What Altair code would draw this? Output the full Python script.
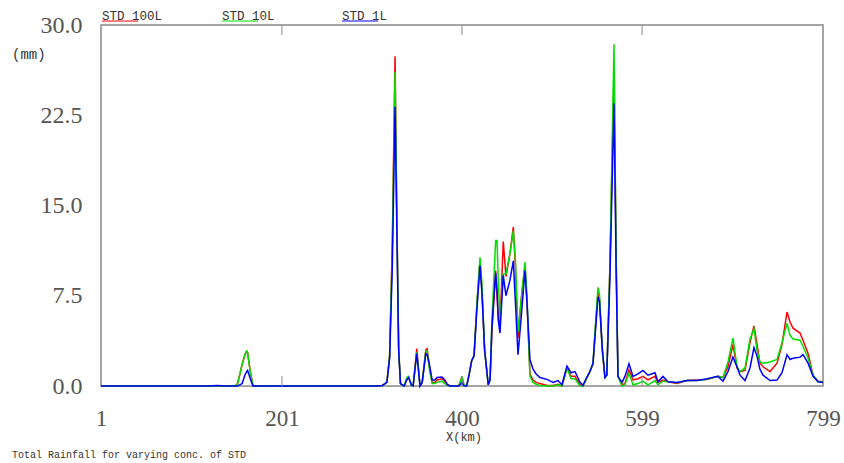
import altair as alt
import pandas as pd

# Distance along the transect (km)
x_km = [1, 120, 129, 140, 150, 152, 157, 160, 162, 163, 166, 169, 180,
        305, 312, 317, 320, 323, 326, 328, 330, 332, 336, 339, 341, 344, 346,
        350, 353.6, 356, 360, 361.5, 364, 367, 370, 372.4, 377.9, 381, 384, 387,
        396, 398, 400, 401.5, 404, 405.2, 408, 410.7, 413.3, 416.6, 419.9, 422,
        425, 429, 431, 433.1, 437.2, 438.7, 440, 442, 445.6, 448.6, 453, 456.7,
        459, 461.9, 465.2, 469.6, 471.8, 475.1, 478.5, 482, 486.2, 493.9, 500.6,
        506.1, 510.5, 516, 520.5, 524.9, 530.4, 533.7, 537, 541.4, 544.8, 548.1,
        550.3, 552, 555, 558, 560, 563.5, 568, 570.5, 572.4, 576.8, 580.1, 584.6,
        589, 594.5, 600, 605.6, 613.3, 616.6, 622.1, 627.7, 637.6, 648.7, 659.7,
        670.8, 682.9, 688.5, 694, 699.5, 703.9, 707.3, 712.8, 718.3, 722.7, 726,
        729.3, 732.7, 740.4, 748.2, 753.7, 759.2, 762.6, 765.9, 773.6, 776.9,
        782.5, 788, 793.5, 799]

# Total rainfall (mm) for each STD concentration
std_100l = [0, 0, 0, 0, 0.05, 0.2, 1.8, 2.6, 2.9, 2.8, 1.2, 0, 0,
            0, 0.05, 0.3, 2.5, 12, 27.4, 14, 3, 0.2, 0, 0.6, 0.7, 0.1, 0,
            3.1, 0, 0.3, 3.0, 3.1, 1.5, 0.3, 0.3, 0.5, 0.6, 0.4, 0.1, 0,
            0, 0.3, 0.8, 0.2, 0, 0, 1.0, 2.1, 2.5, 7.0, 10.4, 8.0,
            3.0, 0.1, 0.5, 4.5, 9.6, 7.5, 6.0, 5.0, 12.0, 9.1, 11.0, 13.2,
            10.0, 4.0, 7.0, 10.0, 7.0, 1.0, 0.5, 0.3, 0.2, 0.05, 0.05,
            0.15, 0, 1.5, 0.8, 0.8, 0.1, 0, 0.5, 1.2, 1.8, 5.5,
            7.8, 7.2, 3.0, 0.7, 0.9, 10.0, 26.0, 10.0, 0.8, 0.1, 0.2, 1.35,
            0.5, 0.6, 0.8, 0.5, 0.8, 0.3, 0.5, 0.35, 0.2, 0.45, 0.5,
            0.55, 0.8, 0.7, 1.6, 3.45, 1.5, 1.2, 1.3, 3.6, 5.0, 3.5,
            1.9, 1.6, 1.2, 1.9, 3.45, 6.15, 5.3, 4.8, 4.4, 3.8,
            2.7, 0.9, 0.4, 0.35]

std_10l = [0, 0, 0, 0, 0.05, 0.2, 1.8, 2.6, 2.9, 2.8, 1.2, 0, 0,
           0, 0.05, 0.3, 2.5, 11.5, 26.1, 14, 3, 0.2, 0, 0.7, 0.8, 0.1, 0,
           2.8, 0, 0.3, 2.9, 2.9, 1.4, 0.2, 0.2, 0.3, 0.4, 0.2, 0.05, 0,
           0, 0.3, 0.8, 0.2, 0, 0, 1.0, 2.1, 2.5, 7.0, 10.7, 8.5,
           3.0, 0.1, 0.5, 5.5, 12.1, 12.1, 9.0, 5.5, 9.3, 9.3, 11.0, 12.9,
           10.5, 4.5, 7.0, 10.3, 7.5, 0.8, 0.3, 0.15, 0.05, 0, 0,
           0.1, 0, 1.5, 0.6, 0.6, 0, 0, 0.5, 1.2, 1.9, 5.8,
           8.2, 7.6, 3.0, 0.7, 0.9, 10.0, 28.4, 10.0, 0.8, 0.0, 0.1, 1.05,
           0.1, 0.2, 0.4, 0.1, 0.45, 0.1, 0.4, 0.35, 0.28, 0.45, 0.45,
           0.55, 0.8, 0.7, 2.0, 4.0, 1.6, 1.2, 1.5, 3.9, 4.75, 3.0,
           2.0, 1.9, 2.0, 2.2, 3.6, 5.2, 4.2, 3.9, 3.8, 3.3,
           2.3, 0.9, 0.35, 0.35]

std_1l = [0, 0, 0.05, 0, 0, 0, 0.2, 0.9, 1.2, 1.3, 0.6, 0, 0,
          0, 0.05, 0.3, 2.3, 10, 23.2, 13, 3, 0.2, 0, 0.5, 0.7, 0.1, 0,
          2.7, 0, 0.3, 2.7, 2.6, 1.8, 0.5, 0.5, 0.7, 0.75, 0.5, 0.1, 0,
          0, 0.1, 0.3, 0.05, 0, 0, 1.0, 2.1, 2.5, 6.5, 10.0, 7.8,
          3.0, 0.1, 0.5, 5.0, 9.4, 8.0, 5.5, 4.4, 9.2, 7.5, 8.8, 10.4,
          7.0, 2.6, 5.5, 9.6, 7.0, 2.2, 1.4, 1.0, 0.7, 0.55, 0.3,
          0.45, 0.1, 1.65, 1.1, 1.2, 0.3, 0.05, 0.6, 1.2, 1.9, 5.2,
          7.4, 7.0, 3.2, 0.7, 0.9, 9.0, 23.5, 9.0, 0.8, 0.3, 0.8, 1.85,
          0.8, 1.0, 1.3, 0.9, 1.1, 0.35, 0.8, 0.35, 0.3, 0.45, 0.45,
          0.6, 0.8, 0.4, 1.2, 2.4, 1.6, 0.9, 0.45, 1.5, 3.2, 2.5,
          1.4, 0.9, 0.45, 0.5, 1.1, 2.6, 2.2, 2.3, 2.4, 2.6,
          1.9, 0.8, 0.35, 0.3]

series_names = ["STD 100L", "STD 10L", "STD 1L"]
series_values = [std_100l, std_10l, std_1l]
series_colors = ["#ff0000", "#00e000", "#0000ff"]

x_ticks = [1, 201, 400, 599, 799]
y_ticks = [0, 7.5, 15, 22.5, 30]
inner_ticks = [201, 400, 599]

W, H = 722, 361
LABEL_FONT = "Liberation Serif"
TEXT_FONT = "Liberation Mono"

x_scale = alt.Scale(domain=[1, 799], nice=False, zero=False)
y_scale = alt.Scale(domain=[0, 30], nice=False)

x_axis = alt.Axis(values=x_ticks, labelFontSize=23, labelFont=LABEL_FONT,
                  labelColor="#555", labelPadding=21, ticks=False,
                  domain=False, grid=False, title=None, labelFlush=False)
y_axis = alt.Axis(values=y_ticks, format=".1f", labelFontSize=24,
                  labelFont=LABEL_FONT, labelColor="#555", labelPadding=19,
                  ticks=False, domain=False, grid=False, title=None)

X = alt.X("km:Q", scale=x_scale, axis=x_axis)
Y = alt.Y("mm:Q", scale=y_scale, axis=y_axis)

layers = []
for name, vals, col in zip(series_names, series_values, series_colors):
    df = pd.DataFrame({"km": x_km, "mm": vals})
    layers.append(
        alt.Chart(df).mark_line(color=col, strokeWidth=1.5).encode(x=X, y=Y)
    )

# Small inward tick marks along the bottom and top edges
tick_df = pd.DataFrame({"km": inner_ticks})
for y0, y1 in [(H, H - 10), (0, 10)]:
    layers.append(
        alt.Chart(tick_df).mark_rule(color="#888", strokeWidth=1).encode(
            x=X, y=alt.value(y0), y2=alt.value(y1))
    )

# Legend across the top: name with a coloured underline
for i, (name, col) in enumerate(zip(series_names, series_colors)):
    x0 = 1 + 120 * i
    layers.append(
        alt.Chart(pd.DataFrame({"t": [name]})).mark_text(
            align="left", baseline="alphabetic", font=TEXT_FONT,
            fontSize=12.5, color="#333").encode(
            text="t:N", x=alt.value(x0), y=alt.value(-5))
    )
    layers.append(
        alt.Chart(pd.DataFrame({"t": [name]})).mark_rule(
            color=col, strokeWidth=1).encode(
            x=alt.value(x0), x2=alt.value(x0 + 36), y=alt.value(-4))
    )


def label(text, x, y, size, align="left"):
    return alt.Chart(pd.DataFrame({"t": [text]})).mark_text(
        align=align, baseline="alphabetic", font=TEXT_FONT, fontSize=size,
        color="#333").encode(text="t:N", x=alt.value(x), y=alt.value(y))


layers.append(label("(mm)", -89, 34, 14))
layers.append(label("X(km)", 363, 416, 12, align="center"))
layers.append(label("Total Rainfall for varying conc. of STD", -89, 433, 10))

chart = alt.layer(*layers).properties(
    width=W, height=H,
    autosize=alt.AutoSizeParams(type="none"),
    padding={"left": 101, "top": 25, "right": 21, "bottom": 77},
    background="white",
).configure_view(stroke="#888", strokeWidth=1.5)

chart.save("out.html", embed_options={"renderer": "svg", "actions": False})
